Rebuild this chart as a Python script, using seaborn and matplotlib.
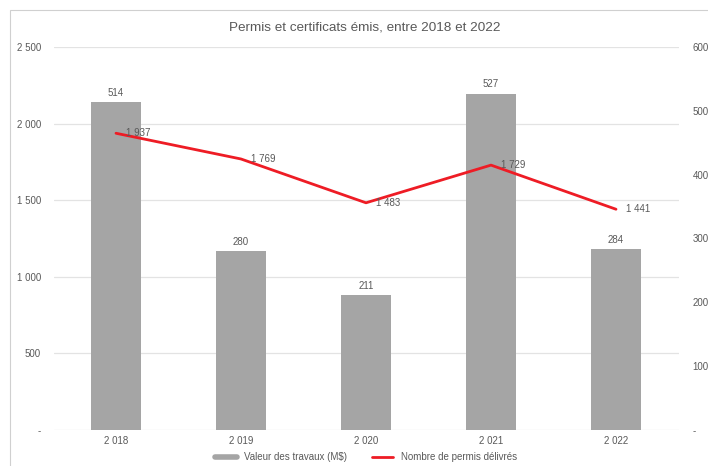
import matplotlib
matplotlib.use("Agg")
import matplotlib.pyplot as plt
import seaborn as sns
import pandas as pd
from matplotlib.patches import Rectangle
from matplotlib.lines import Line2D
from matplotlib.ticker import FixedLocator, FuncFormatter

years = ["2 018", "2 019", "2 020", "2 021", "2 022"]
valeur_travaux = [514, 280, 211, 527, 284]
nombre_permis = [1937, 1769, 1483, 1729, 1441]
left_ticks = [0, 500, 1000, 1500, 2000, 2500]
right_ticks = [0, 100, 200, 300, 400, 500, 600]

sns.set_theme(style="white")
plt.rcParams['font.family'] = ['Liberation Sans', 'DejaVu Sans']

TXT = "#595959"
GRID = "#E3E3E3"
BAR = "#A5A5A5"
RED = "#EE1C25"

def fmt(v):
    v = int(round(v))
    return "-" if v == 0 else f"{v:,}".replace(",", " ")

df = pd.DataFrame({"annee": years, "valeur": valeur_travaux, "permis": nombre_permis})

fig = plt.figure(figsize=(7.08, 4.66), dpi=100)
ax = fig.add_axes([53.5/708, 1-430/466, 625/708, 383/466])
axb = ax.twinx()
axl = ax.twinx()

# base axis: left ticks + grid
ax.set_xlim(-0.5, 4.5)
ax.set_ylim(0, 2500)
ax.yaxis.set_major_locator(FixedLocator(left_ticks))
ax.yaxis.set_major_formatter(FuncFormatter(lambda v, p: fmt(v)))
ax.grid(axis="y", color=GRID, linewidth=0.9)
ax.set_axisbelow(True)

# bars on right axis
sns.barplot(data=df, x="annee", y="valeur", color=BAR, width=0.4, ax=axb,
            saturation=1, edgecolor="none")
axb.set_xlim(-0.5, 4.5)
axb.set_ylim(0, 600)
axb.yaxis.set_major_locator(FixedLocator(right_ticks))
axb.yaxis.set_major_formatter(FuncFormatter(lambda v, p: fmt(v)))
axb.bar_label(axb.containers[0], labels=[fmt(v) for v in valeur_travaux],
              padding=3, fontsize=7, color=TXT)

# line on top
sns.lineplot(data=df, x="annee", y="permis", color=RED, linewidth=2, ax=axl,
             sort=False)
axl.set_xlim(-0.5, 4.5)
axl.set_ylim(0, 2500)
axl.set_yticks([])
for i, v in enumerate(nombre_permis):
    axl.annotate(fmt(v), (i, v), xytext=(7, 0), textcoords="offset points",
                 ha="left", va="center", fontsize=7, color=TXT)

for a in (ax, axb, axl):
    for s in a.spines.values():
        s.set_visible(False)
    a.set_xlabel("")
    a.set_ylabel("")
    a.tick_params(length=0, labelsize=7, colors=TXT)
ax.tick_params(axis="y", pad=9)
axb.tick_params(axis="y", pad=10)
ax.tick_params(axis="x", pad=4)
axb.set_xticks([])
axl.set_xticks([])
ax.set_xticks(range(len(years)))
ax.set_xticklabels(years)

fig.text(365/708, 1-27/466, "Permis et certificats émis, entre 2018 et 2022",
         ha="center", va="center", fontsize=9.7, color=TXT)

fig.patches.append(Rectangle((10/708, -0.05), 1.2, 1-10/466+0.05,
                             transform=fig.transFigure, fill=False,
                             edgecolor="#D0D0D0", linewidth=0.8))

handles = [Line2D([], [], color=BAR, linewidth=4),
           Line2D([], [], color=RED, linewidth=2)]
fig.legend(handles, ["Valeur des travaux (M$)", "Nombre de permis délivrés"],
           loc="center", bbox_to_anchor=(366/708, 1-457/466), ncol=2, frameon=False,
           fontsize=7, labelcolor=TXT, handlelength=2.2, columnspacing=2.5)

fig.savefig("out.png", dpi=100)
